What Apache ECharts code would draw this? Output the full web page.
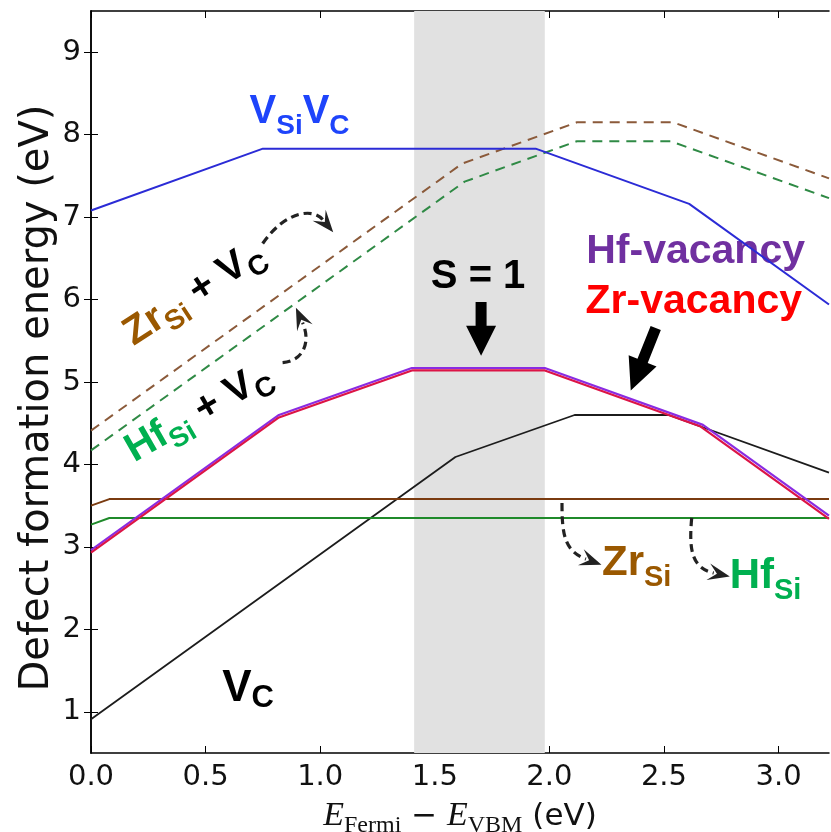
<!DOCTYPE html>
<html>
<head>
<meta charset="utf-8">
<script src="https://cdn.jsdelivr.net/npm/echarts@6/dist/echarts.min.js"></script>
<style>
  html, body { margin: 0; padding: 0; background: #fff; }
  #chart { width: 831px; height: 832px; }
</style>
</head>
<body>
<div id="chart"></div>
<script>
// Fermi level (eV) at each kink of a defect's formation-energy curve, and the energy there (eV)
const vsivcX  = [0, 0.75, 1.94, 2.61, 3.22];
const vsivcY  = [7.08, 7.83, 7.83, 7.16, 5.94];
const zrSiVcX = [0, 1.62, 2.12, 2.54, 3.22];
const zrSiVcY = [4.41, 7.65, 8.15, 8.15, 7.47];
const hfSiVcX = [0, 1.63, 2.12, 2.53, 3.22];
const hfSiVcY = [4.17, 7.43, 7.92, 7.92, 7.23];
const hfVacX  = [0, 0.82, 1.40, 1.98, 2.67, 3.22];
const hfVacY  = [2.96, 4.60, 5.17, 5.17, 4.48, 3.38];
const zrVacX  = [0, 0.82, 1.40, 1.98, 2.66, 3.22];
const zrVacY  = [2.93, 4.57, 5.14, 5.14, 4.46, 3.34];
const vcX     = [0, 1.59, 2.11, 2.52, 3.22];
const vcY     = [0.91, 4.09, 4.60, 4.60, 3.90];
const zrSiX   = [0, 0.08, 3.22];
const zrSiY   = [3.50, 3.58, 3.58];
const hfSiX   = [0, 0.08, 3.22];
const hfSiY   = [3.27, 3.35, 3.35];

// Fermi-level window where the S = 1 state is stable
const spinBand = [1.41, 1.98];

// Axis ranges and ticks
const xRange = [0, 3.22];
const yRange = [0.5, 9.5];
const xTicks = [0, 0.5, 1.0, 1.5, 2.0, 2.5, 3.0];
const yTicks = [1, 2, 3, 4, 5, 6, 7, 8, 9];

const zip = (xs, ys) => xs.map((x, i) => [x, ys[i]]);

function lineSeries(name, xs, ys, color, width, dashed, z) {
  return {
    name, type: 'line', data: zip(xs, ys), symbol: 'none', z: z,
    lineStyle: { color, width, type: dashed ? [10, 7] : 'solid' },
    emphasis: { disabled: true }, silent: true, animation: false
  };
}

const chart = echarts.init(document.getElementById('chart'), null, { renderer: 'canvas' });

const tickLabel = { fontSize: 29, color: '#111', fontFamily: 'DejaVu Sans' };
const spine = { show: true, lineStyle: { color: '#000', width: 1.5 } };

const bandSeries = {
  type: 'line', data: [], silent: true, z: 1,
  markArea: {
    silent: true,
    itemStyle: { color: '#e1e1e1' },
    data: [[{ xAxis: spinBand[0] }, { xAxis: spinBand[1] }]]
  }
};

chart.setOption({
  animation: false,
  backgroundColor: '#fff',
  grid: { left: 91, right: 2, top: 11, bottom: 79, containLabel: false },
  xAxis: [
    {
      type: 'value', min: xRange[0], max: xRange[1], position: 'bottom',
      axisLine: spine, splitLine: { show: false },
      axisTick: { inside: true, length: 7, customValues: xTicks, lineStyle: { color: '#000' } },
      axisLabel: Object.assign({ customValues: xTicks, margin: 10, formatter: v => v.toFixed(1) }, tickLabel)
    },
    {
      type: 'value', min: xRange[0], max: xRange[1], position: 'top',
      axisLine: spine, splitLine: { show: false },
      axisTick: { inside: true, length: 7, customValues: xTicks, lineStyle: { color: '#000' } },
      axisLabel: { show: false }
    }
  ],
  yAxis: [
    {
      type: 'value', min: yRange[0], max: yRange[1], position: 'left',
      axisLine: spine, splitLine: { show: false },
      axisTick: { inside: true, length: 7, customValues: yTicks, lineStyle: { color: '#000' } },
      axisLabel: Object.assign({ customValues: yTicks, margin: 10 }, tickLabel)
    },
    {
      type: 'value', min: yRange[0], max: yRange[1], position: 'right',
      axisLine: spine, splitLine: { show: false },
      axisTick: { inside: true, length: 7, customValues: yTicks, lineStyle: { color: '#000' } },
      axisLabel: { show: false }
    }
  ],
  series: [
    bandSeries,
    lineSeries('ZrSi+VC', zrSiVcX, zrSiVcY, '#8b5a3a', 2, true, 3),
    lineSeries('HfSi+VC', hfSiVcX, hfSiVcY, '#2f8a45', 2, true, 3),
    lineSeries('VSiVC', vsivcX, vsivcY, '#2b2bd6', 2, false, 4),
    lineSeries('VC', vcX, vcY, '#1c1c1c', 1.8, false, 4),
    lineSeries('ZrSi', zrSiX, zrSiY, '#7a3b10', 2, false, 4),
    lineSeries('HfSi', hfSiX, hfSiY, '#1f8a2a', 2, false, 4),
    lineSeries('Hf-vacancy', hfVacX, hfVacY, '#8a2be2', 2.2, false, 5),
    lineSeries('Zr-vacancy', zrVacX, zrVacY, '#dc1446', 2.2, false, 6)
  ]
});

// ---------- annotations ----------
const toPx = p => chart.convertToPixel({ xAxisIndex: 0, yAxisIndex: 0 }, p);
const meas = document.createElement('canvas').getContext('2d');
const textW = (font, s) => { meas.font = font; return meas.measureText(s).width; };
const B = (size) => 'bold ' + size + 'px "Liberation Sans"';

// A run of text pieces laid out on one baseline (centred on the anchor), optionally rotated.
function label(parts, anchor, rotDeg) {
  const widths = parts.map(p => textW(p.font, p.t));
  const total = widths.reduce((a, b) => a + b, 0);
  let cx = -total / 2;
  const children = parts.map((p, i) => {
    const size = parseFloat(p.font.match(/(\d+(\.\d+)?)px/)[1]);
    const el = {
      type: 'text', x: cx, y: (p.dy || 0) - 0.31 * size, z: 2,
      style: { text: p.t, font: p.font, fill: p.color, align: 'left', verticalAlign: 'middle',
               textAlign: 'left', textVerticalAlign: 'middle' },
      silent: true
    };
    cx += widths[i];
    return el;
  });
  return { type: 'group', x: anchor[0], y: anchor[1], rotation: (rotDeg || 0) * Math.PI / 180, children, z: 2 };
}

function blockArrow(a, b, shaftW, headW, headL) {
  const p0 = toPx(a), p1 = toPx(b);
  const dx = p1[0] - p0[0], dy = p1[1] - p0[1], L = Math.hypot(dx, dy);
  const ux = dx / L, uy = dy / L, nx = -uy, ny = ux;
  const bx = p1[0] - ux * headL, by = p1[1] - uy * headL;
  const pts = [
    [p0[0] + nx * shaftW / 2, p0[1] + ny * shaftW / 2],
    [bx + nx * shaftW / 2, by + ny * shaftW / 2],
    [bx + nx * headW / 2, by + ny * headW / 2],
    p1,
    [bx - nx * headW / 2, by - ny * headW / 2],
    [bx - nx * shaftW / 2, by - ny * shaftW / 2],
    [p0[0] - nx * shaftW / 2, p0[1] - ny * shaftW / 2]
  ];
  return { type: 'polygon', shape: { points: pts }, style: { fill: '#000' }, z: 100, silent: true };
}

// Dashed curved pointer: starts at a data point, shape given as pixel offsets from there.
function curvedArrow(startData, c1, c2, end) {
  const s = toPx(startData);
  const P = o => [s[0] + o[0], s[1] + o[1]];
  const p1 = P(c1), p2 = P(c2), pe = P(end);
  const dx = pe[0] - p2[0], dy = pe[1] - p2[1], L = Math.hypot(dx, dy);
  const ux = dx / L, uy = dy / L, nx = -uy, ny = ux;
  const hl = 22, hw = 17;
  const tip = [pe[0] + ux * hl * 0.75, pe[1] + uy * hl * 0.75];
  const back = [tip[0] - ux * hl, tip[1] - uy * hl];
  const notch = [tip[0] - ux * hl * 0.6, tip[1] - uy * hl * 0.6];
  return [
    {
      type: 'bezierCurve', silent: true, z: 100,
      shape: { x1: s[0], y1: s[1], cpx1: p1[0], cpy1: p1[1], cpx2: p2[0], cpy2: p2[1], x2: pe[0], y2: pe[1] },
      style: { stroke: '#222', lineWidth: 3.2, lineDash: [8, 5], fill: null }
    },
    {
      type: 'polygon', silent: true, z: 101,
      shape: { points: [tip, [back[0] + nx * hw / 2, back[1] + ny * hw / 2], notch, [back[0] - nx * hw / 2, back[1] - ny * hw / 2]] },
      style: { fill: '#222' }
    }
  ];
}

const BLUE = '#1e44fb', PURPLE = '#7030a0', RED = '#ff0000', BROWN = '#9a5800', GREEN = '#00b050', BLACK = '#000';

const gridRect = chart.getModel().getComponent('grid').coordinateSystem.getRect();
const gMidX = gridRect.x + gridRect.width / 2;
const gBottom = gridRect.y + gridRect.height;

const graphics = [
  label([
    { t: 'V', font: B(40), color: BLUE },
    { t: 'Si', font: B(28), color: BLUE, dy: 10 },
    { t: 'V', font: B(40), color: BLUE },
    { t: 'C', font: B(28), color: BLUE, dy: 10 }
  ], toPx([0.91, 8.12])),
  label([{ t: 'Hf-vacancy', font: B(41), color: PURPLE }], toPx([2.638, 6.43])),
  label([{ t: 'Zr-vacancy', font: B(41), color: RED }], toPx([2.63, 5.825])),
  label([{ t: 'S = 1', font: B(40), color: BLACK }], toPx([1.689, 6.127])),
  label([
    { t: 'Zr', font: B(40), color: BROWN },
    { t: 'Si', font: B(28), color: BROWN, dy: 9 },
    { t: ' + ', font: B(40), color: BLACK },
    { t: 'V', font: B(40), color: BLACK },
    { t: 'C', font: B(28), color: BLACK, dy: 9 }
  ], toPx([0.479, 5.946]), 33),
  label([
    { t: 'Hf', font: B(40), color: GREEN },
    { t: 'Si', font: B(28), color: GREEN, dy: 9 },
    { t: ' + ', font: B(40), color: BLACK },
    { t: 'V', font: B(40), color: BLACK },
    { t: 'C', font: B(28), color: BLACK, dy: 9 }
  ], toPx([0.496, 4.497]), 30),
  label([
    { t: 'V', font: B(44), color: BLACK },
    { t: 'C', font: B(31), color: BLACK, dy: 6 }
  ], toPx([0.685, 1.117])),
  label([
    { t: 'Zr', font: B(42), color: BROWN },
    { t: 'Si', font: B(29), color: BROWN, dy: 10 }
  ], toPx([2.381, 2.638])),
  label([
    { t: 'Hf', font: B(42), color: GREEN },
    { t: 'Si', font: B(29), color: GREEN, dy: 10 }
  ], toPx([2.943, 2.481])),
  blockArrow([1.702, 5.97], [1.702, 5.318], 11, 30, 30),
  blockArrow([2.464, 5.656], [2.355, 4.896], 11, 30, 32),
  ...curvedArrow([0.749, 6.68], [22, -32], [50, -36], [60, -24]),
  ...curvedArrow([0.836, 5.234], [22, -2], [28, -22], [20, -40]),
  ...curvedArrow([2.055, 3.531], [0, 30], [2, 48], [24, 56]),
  ...curvedArrow([2.621, 3.351], [-3, 32], [0, 50], [22, 55]),
  // axis titles
  label([
    { t: 'E', font: 'italic 34px "Liberation Serif"', color: '#111' },
    { t: 'Fermi', font: '24px "Liberation Serif"', color: '#111', dy: 6 },
    { t: ' \u2212 ', font: '31px "DejaVu Sans"', color: '#111' },
    { t: 'E', font: 'italic 34px "Liberation Serif"', color: '#111' },
    { t: 'VBM', font: '24px "Liberation Serif"', color: '#111', dy: 6 },
    { t: ' (eV)', font: '31px "DejaVu Sans"', color: '#111' }
  ], [gMidX, gBottom + 74]),
  label([{ t: 'Defect formation energy (eV)', font: '40px "DejaVu Sans"', color: '#111' }],
        [50, gridRect.y + gridRect.height / 2 + 16], 90)
];

chart.setOption({ graphic: graphics });
</script>
</body>
</html>
